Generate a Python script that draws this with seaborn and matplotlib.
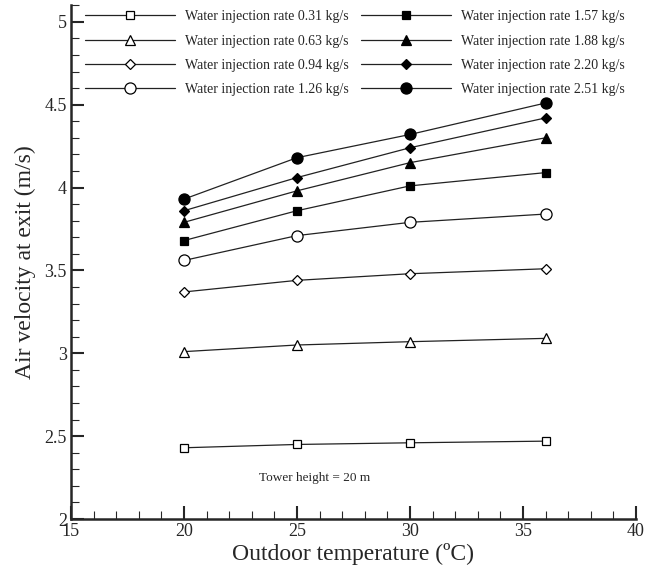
import matplotlib
matplotlib.use('Agg')
import matplotlib.pyplot as plt
import seaborn as sns
from matplotlib.ticker import MultipleLocator

# outdoor temperature (C)
temps = [20, 25, 30, 36]

# air velocity at exit (m/s) for each water injection rate
rates = ['0.31', '0.63', '0.94', '1.26', '1.57', '1.88', '2.20', '2.51']
v_031 = [2.43, 2.45, 2.46, 2.47]
v_063 = [3.01, 3.05, 3.07, 3.09]
v_094 = [3.37, 3.44, 3.48, 3.51]
v_126 = [3.56, 3.71, 3.79, 3.84]
v_157 = [3.68, 3.86, 4.01, 4.09]
v_188 = [3.79, 3.98, 4.15, 4.30]
v_220 = [3.86, 4.06, 4.24, 4.42]
v_251 = [3.93, 4.18, 4.32, 4.51]
velocities = [v_031, v_063, v_094, v_126, v_157, v_188, v_220, v_251]

# marker, filled?, size
marker_styles = [('s', False, 5.8), ('^', False, 7), ('D', False, 5.6), ('o', False, 8),
                 ('s', True, 5.8), ('^', True, 7), ('D', True, 5.6), ('o', True, 8)]

sns.set_style('ticks')
plt.rcParams['font.family'] = ['Liberation Serif', 'DejaVu Serif']

fig = plt.figure(figsize=(6.45, 5.78), dpi=100)
ax = fig.add_axes([0.110, 0.102, 0.876, 0.889])

for rate, vals, (m, filled, ms) in zip(rates, velocities, marker_styles):
    sns.lineplot(x=temps, y=vals, ax=ax, color='#222222', linewidth=0.9,
                 marker=m, markersize=ms, markeredgewidth=0.9,
                 markerfacecolor='black' if filled else 'white',
                 markeredgecolor='black',
                 label=f'Water injection rate {rate} kg/s')

ax.set_xlim(15, 40)
ax.set_ylim(2, 5.1)
ax.xaxis.set_major_locator(MultipleLocator(5))
ax.xaxis.set_minor_locator(MultipleLocator(1))
ax.yaxis.set_major_locator(MultipleLocator(0.5))
ax.yaxis.set_minor_locator(MultipleLocator(0.1))
ax.set_yticks([2, 2.5, 3, 3.5, 4, 4.5, 5])
ax.set_yticklabels(['2', '2.5', '3', '3.5', '4', '4.5', '5'])

sns.despine(ax=ax)
for s in ['left', 'bottom']:
    ax.spines[s].set_linewidth(1.8)
ax.tick_params(which='major', direction='in', length=9.5, width=1.5, labelsize=13, pad=3)
ax.tick_params(which='minor', direction='in', length=5.5, width=0.8)

ax.set_xlabel('Outdoor temperature (ºC)', fontsize=17, labelpad=2)
ax.set_ylabel('Air velocity at exit (m/s)', fontsize=17, labelpad=6)

ax.text(23.3, 2.25, 'Tower height = 20 m', fontsize=9.5, ha='left', va='center')

ax.legend(loc='upper left', bbox_to_anchor=(0.025, 0.990), ncol=2, frameon=False,
          fontsize=10, handlelength=6.5, handletextpad=0.7, columnspacing=0.85,
          labelspacing=0.81, borderpad=0, borderaxespad=0)

plt.savefig('out.png', dpi=100)
plt.close()
